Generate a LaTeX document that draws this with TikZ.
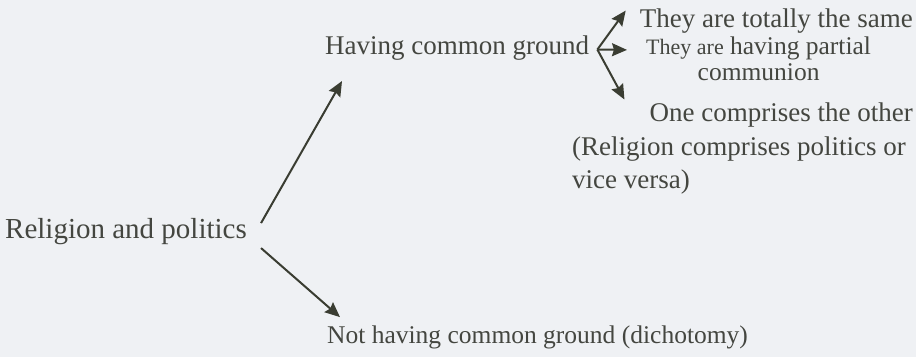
\documentclass[tikz,border=0pt]{standalone}
\usepackage{fontspec}
\setmainfont{Liberation Serif}
\usetikzlibrary{arrows.meta, positioning, calc}

\definecolor{inkgray}{RGB}{68,70,64}
\definecolor{arrowgray}{RGB}{58,61,50}
\definecolor{paper}{RGB}{239,241,244}

\begin{document}
\begin{tikzpicture}[
		x=1pt, y=-1pt,
		% Text styles
		term/.style={inner sep=0pt, text=inkgray, font=\fontsize{27}{31}\selectfont},
		big term/.style={term, font=\fontsize{29}{33}\selectfont},
		small term/.style={term, font=\fontsize{25.5}{29}\selectfont},
		% Arrow style
		arr/.style={-{Stealth[length=15pt, width=13pt, inset=2pt]}, line width=2pt, draw=arrowgray}
		]
		
		% --- Background ---
		\fill[paper] (0,0) rectangle (916,357);
		\useasboundingbox (0,0) rectangle (916,357);
		
		% --- 1. Root and the two branches ---
		\node[big term, anchor=base west] (rp) at (5,238) {Religion and politics};
		\node[term, anchor=base west] (hcg) at (325,54) {Having common ground};
		\node[small term, anchor=base west] (nhcg) at (327,343) {Not having common ground (dichotomy)};
		
		% --- 2. Kinds of common ground ---
		\node[term, anchor=base east] (same) at (913,27) {They are totally the same};
		\node[small term, anchor=base west] (partial) at (646,54) {{\fontsize{22}{26}\selectfont They are} having partial};
		\node[small term, below=4pt of partial] (comm) {communion};
		\node[term, anchor=base east] (one) at (913,121) {One comprises the other};
		\node[term, anchor=base west] (rel) at (572,155) {(Religion comprises politics or};
		\node[term, anchor=base west] (vice) at (572,188) {vice versa)};
		
		% --- 3. Arrows ---
		\coordinate (fork) at ($(hcg.east)+(8,2)$);
		\draw[arr] ([shift={(14,-8)}]rp.east) -- ([shift={(17,21)}]hcg.south west);
		\draw[arr] ([shift={(14,17)}]rp.east) -- ([shift={(13,-8)}]nhcg.north west);
		\draw[arr] (fork) -- ([shift={(-14,-10)}]same.west);
		\draw[arr] (fork) -- ([shift={(-19,2)}]partial.west);
		\draw[arr] (fork) -- ([shift={(-25,-15)}]one.west);
		
\end{tikzpicture}
\end{document}
